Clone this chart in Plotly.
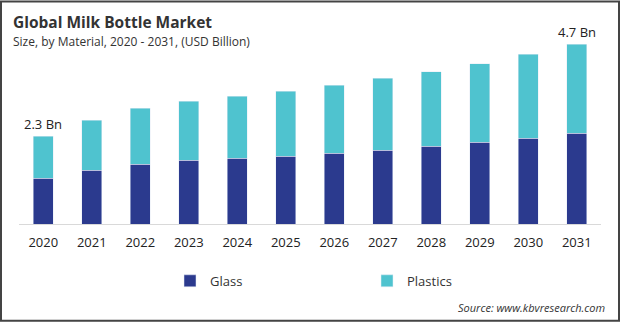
import plotly.graph_objects as go

years = ["2020", "2021", "2022", "2023", "2024", "2025", "2026", "2027", "2028", "2029", "2030", "2031"]
glass = [1.20, 1.41, 1.57, 1.67, 1.72, 1.78, 1.85, 1.93, 2.04, 2.14, 2.25, 2.38]
plastics = [1.10, 1.31, 1.46, 1.54, 1.62, 1.69, 1.78, 1.88, 1.95, 2.06, 2.19, 2.32]
label_years = ["2020", "2031"]
label_texts = ["2.3 Bn", "4.7 Bn"]

W, H = 620, 322
ML, MR, MT, MB = 19, 19, 32.5, 98
PW = W - ML - MR
PH = H - MT - MB

FONT = "Open Sans"
fig = go.Figure()
fig.add_trace(go.Bar(x=years, y=glass, name="Glass", marker_color="#2b3a8e", width=0.41))
fig.add_trace(go.Bar(x=years, y=plastics, name="Plastics", marker_color="#4fc3cf", width=0.41))

totals = [g + p for g, p in zip(glass, plastics)]
for yr, txt in zip(label_years, label_texts):
    i = years.index(yr)
    fig.add_annotation(x=i, y=totals[i], text=txt, showarrow=False, yanchor="bottom", yshift=1,
                       font=dict(family=FONT, size=13, color="#222222"))

fig.add_annotation(xref="paper", yref="paper", x=-(ML - 11) / PW, y=1 + (MT - 21) / PH, xanchor="left", yanchor="middle",
                   text="<b>Global Milk Bottle Market</b>", showarrow=False,
                   font=dict(family=FONT, size=15.5, color="#333333"))
fig.add_annotation(xref="paper", yref="paper", x=-(ML - 11) / PW, y=1 + (MT - 41) / PH, xanchor="left", yanchor="middle",
                   text="Size, by Material, 2020 - 2031, (USD Billion)", showarrow=False,
                   font=dict(family=FONT, size=12, color="#333333"))
fig.add_annotation(xref="paper", yref="paper", x=1 + (607 - (W - MR)) / PW, y=-(308 - (H - MB)) / PH, xanchor="right", yanchor="middle",
                   text="<i>Source: www.kbvresearch.com</i>", showarrow=False,
                   font=dict(family=FONT, size=11, color="#333333"))

fig.add_shape(type="rect", xref="paper", yref="paper",
              x0=-(ML - 1) / PW, x1=1 + (MR - 1) / PW, y0=-(MB - 1) / PH, y1=1 + (MT - 1) / PH,
              line=dict(color="#444444", width=2), fillcolor="rgba(0,0,0,0)", layer="above")

fig.update_layout(
    width=W, height=H, barmode="stack",
    margin=dict(l=ML, r=MR, t=MT, b=MB),
    paper_bgcolor="white", plot_bgcolor="white",
    font=dict(family=FONT, color="#333333"),
    xaxis=dict(type="category", showgrid=False, showline=True, linecolor="#d9d9d9", linewidth=1,
               tickfont=dict(family=FONT, size=13, color="#222222"), ticks="", ticklabelstandoff=6,
               range=[-0.5, 11.5]),
    yaxis=dict(visible=False, range=[0, 5]),
    legend=dict(orientation="h", traceorder="normal", x=(170 - ML) / PW, xanchor="left",
                y=-(281 - (H - MB)) / PH, yanchor="middle",
                font=dict(family=FONT, size=13, color="#333333"), entrywidth=152, entrywidthmode="pixels",
                itemwidth=30),
    showlegend=True,
)

fig.write_html("out.html")
